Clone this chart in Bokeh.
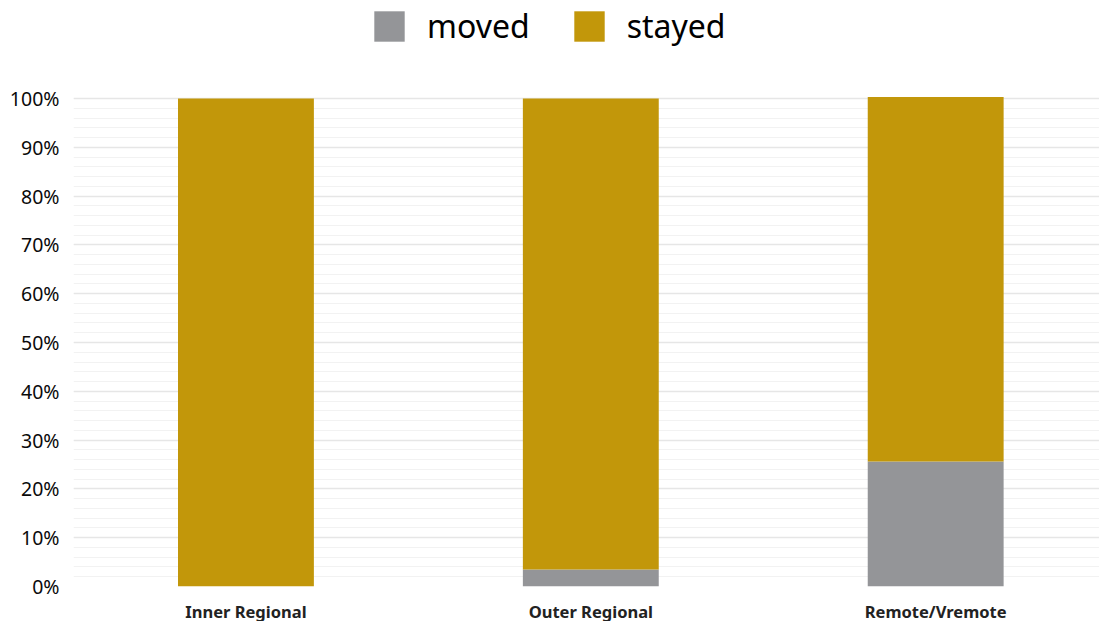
from bokeh.plotting import figure
from bokeh.models import ColumnDataSource, Range1d, FixedTicker, PrintfTickFormatter, Legend, LegendItem
from bokeh.embed import file_html
from bokeh.resources import INLINE

categories = ["Inner Regional", "Outer Regional", "Remote/Vremote"]
moved = [0.0, 3.5, 25.6]
stayed = [100.0, 96.5, 74.7]
series_names = ["moved", "stayed"]
colors = ["#949598", "#C2970A"]
y_ticks = [0, 10, 20, 30, 40, 50, 60, 70, 80, 90, 100]

xpos = [i + 0.5 for i in range(len(categories))]
src = ColumnDataSource(dict(x=xpos, moved=moved, stayed=stayed))

p = figure(frame_width=1026, frame_height=586, output_backend="svg", toolbar_location=None,
           x_range=Range1d(0, 2.975), y_range=Range1d(0, 120.08),
           min_border_left=73, min_border_right=0, min_border_top=0, min_border_bottom=35)
p.outline_line_color = None

r = p.vbar_stack(["moved", "stayed"], x="x", width=0.394, source=src,
                 color=colors, line_color=None)

p.xaxis.ticker = FixedTicker(ticks=xpos)
p.xaxis.major_label_overrides = {x: c for x, c in zip(xpos, categories)}
p.xaxis.axis_line_color = None
p.xaxis.major_tick_line_color = None
p.xaxis.minor_tick_line_color = None
p.xaxis.major_tick_out = 0
p.xaxis.major_label_text_font = "Noto Sans"
p.xaxis.major_label_text_font_style = "bold"
p.xaxis.major_label_text_font_size = "16.5px"
p.xaxis.major_label_text_color = "#222222"
p.xaxis.major_label_standoff = 13

p.yaxis.ticker = FixedTicker(ticks=y_ticks, minor_ticks=[v for v in range(0, 101, 2)])
p.yaxis.formatter = PrintfTickFormatter(format="%d%%")
p.yaxis.axis_line_color = None
p.yaxis.major_tick_line_color = None
p.yaxis.minor_tick_line_color = None
p.yaxis.major_tick_out = 0
p.yaxis.major_label_text_font = "Noto Sans"
p.yaxis.major_label_text_font_size = "19.5px"
p.yaxis.major_label_text_color = "#0a0a0a"
p.yaxis.major_label_standoff = 10

p.xgrid.grid_line_color = None
p.ygrid.grid_line_color = "#e6e6e6"
p.ygrid.grid_line_width = 1.5
p.ygrid.minor_grid_line_color = "#f2f2f2"
p.ygrid.minor_grid_line_width = 1

legend = Legend(items=[LegendItem(label=n, renderers=[rr]) for n, rr in zip(series_names, r)],
                orientation="horizontal", location=(297, 539),
                glyph_width=38, glyph_height=38, label_height=38, label_text_font="Noto Sans",
                label_text_font_size="32px", label_text_color="#000000",
                label_standoff=19, spacing=40, border_line_color=None,
                background_fill_alpha=0, margin=0, padding=0)
p.add_layout(legend, "center")

open("out.html", "w").write(file_html(p, INLINE))
